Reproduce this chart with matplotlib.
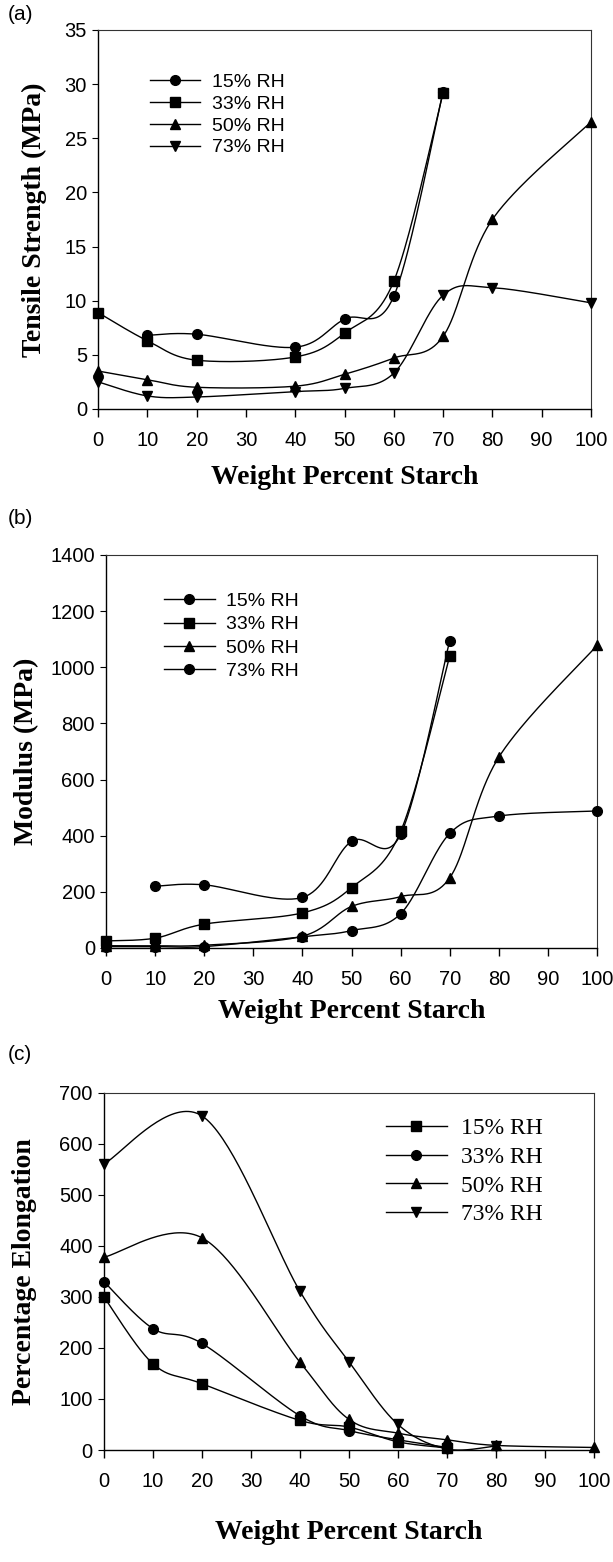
import numpy as np
import matplotlib.pyplot as plt

# weight percent starch
x_all = [0, 10, 20, 40, 50, 60, 70, 80, 100]
labels = ['15% RH', '33% RH', '50% RH', '73% RH']

# (a) tensile strength, MPa
ts_x = [[10, 20, 40, 50, 60, 70],
        [0, 10, 20, 40, 50, 60, 70],
        x_all,
        x_all]
ts_y = [[6.8, 6.9, 5.7, 8.3, 10.4, 29.3],
        [8.9, 6.3, 4.5, 4.8, 7.0, 11.8, 29.2],
        [3.5, 2.7, 2.0, 2.1, 3.2, 4.7, 6.7, 17.5, 26.5],
        [2.5, 1.2, 1.1, 1.6, 1.9, 3.3, 10.5, 11.2, 9.8]]

# (b) modulus, MPa
mod_x = [[10, 20, 40, 50, 60, 70],
         [0, 10, 20, 40, 50, 60, 70],
         x_all,
         x_all]
mod_y = [[220, 225, 180, 380, 405, 1095],
         [25, 35, 85, 125, 215, 415, 1040],
         [8, 8, 10, 42, 148, 183, 250, 680, 1078],
         [5, 5, 5, 40, 62, 122, 408, 470, 488]]

# (c) percentage elongation
el_x = [[0, 10, 20, 40, 50, 60, 70],
        [0, 10, 20, 40, 50, 60, 70],
        [0, 20, 40, 50, 60, 70, 80, 100],
        [0, 20, 40, 50, 60, 70, 80]]
el_y = [[300, 169, 130, 58, 45, 16, 4],
        [330, 238, 209, 67, 38, 20, 5],
        [378, 416, 172, 60, 33, 20, 9, 5],
        [561, 655, 311, 173, 50, 2, 8]]


def smooth(x, y, n=40):
    # Catmull-Rom style bezier through the points (spreadsheet "smoothed line")
    p = np.column_stack([x, y]).astype(float)
    ext = np.vstack([p[0], p, p[-1]])
    out = []
    t = np.linspace(0, 1, n)[:, None]
    for i in range(len(p) - 1):
        p0, p1 = ext[i + 1], ext[i + 2]
        c1 = p0 + (ext[i + 2] - ext[i]) / 6
        c2 = p1 - (ext[i + 3] - ext[i + 1]) / 6
        seg = (1 - t)**3 * p0 + 3 * (1 - t)**2 * t * c1 + 3 * (1 - t) * t**2 * c2 + t**3 * p1
        out.append(seg)
    out = np.vstack(out)
    return out[:, 0], out[:, 1]


sans = 'Liberation Sans'
serif = 'Liberation Serif'

fig = plt.figure(figsize=(6.13, 15.62), dpi=100)


def panel(rect, xs, ys, markers, ymax, ystep, ylabel, ylab_x, xlab_y,
          leg_anchor, leg_font, leg_size, leg_space, tag, tag_y):
    ax = fig.add_axes(rect)
    for xx, yy, m, lab in zip(xs, ys, markers, labels):
        sx, sy = smooth(xx, yy)
        ax.plot(sx, sy, '-', color='black', lw=1.0)
        ax.plot(xx, yy, m, color='black', ms=7, clip_on=False, zorder=3)
        ax.plot([], [], '-', marker=m, color='black', lw=1.0, ms=7, label=lab)
    ax.set_xlim(0, 100)
    ax.set_ylim(0, ymax)
    ax.set_xticks(range(0, 101, 10))
    ax.set_yticks(np.arange(0, ymax + 1, ystep))
    ax.tick_params(axis='x', direction='out', length=6, width=1, pad=10, labelsize=14.5)
    ax.tick_params(axis='y', direction='out', length=4, width=0.8, pad=4, labelsize=14.5)
    for lab in ax.get_xticklabels() + ax.get_yticklabels():
        lab.set_family(sans)
    for s in ['left', 'bottom']:
        ax.spines[s].set_linewidth(1.0)
    for s in ['top', 'right']:
        ax.spines[s].set_linewidth(0.8)
        ax.spines[s].set_color('#333333')
    ax.set_xlabel('Weight Percent Starch', family=serif, weight='bold', fontsize=20)
    ax.set_ylabel(ylabel, family=serif, weight='bold', fontsize=20)
    ax.xaxis.set_label_coords(0.5, xlab_y)
    ax.yaxis.set_label_coords(ylab_x, 0.5)
    ax.legend(loc='upper left', bbox_to_anchor=leg_anchor, frameon=False,
              prop={'family': leg_font, 'size': leg_size}, handlelength=2.6,
              handletextpad=0.6, labelspacing=leg_space, borderpad=0, borderaxespad=0)
    fig.text(0.012, tag_y, tag, family=sans, fontsize=15, va='center')
    return ax


panel([0.160, 0.7382, 0.804, 0.2426], ts_x, ts_y, ['o', 's', '^', 'v'], 35, 5,
      'Tensile Strength (MPa)', -0.103, -0.148, (0.105, 0.886), sans, 14, 0.22,
      '(a)', 1 - 15 / 1562)
panel([0.173, 0.3931, 0.801, 0.2516], mod_x, mod_y, ['o', 's', '^', 'o'], 1400, 200,
      'Modulus (MPa)', -0.136, -0.13, (0.118, 0.905), sans, 14, 0.3,
      '(b)', 1 - 518 / 1562)
panel([0.1696, 0.0717, 0.7994, 0.2286], el_x, el_y, ['s', 'o', '^', 'v'], 700, 100,
      'Percentage Elongation', -0.137, -0.196, (0.575, 0.93), serif, 17, 0.3,
      '(c)', 1 - 1055 / 1562)

fig.savefig('out.png', dpi=100)
